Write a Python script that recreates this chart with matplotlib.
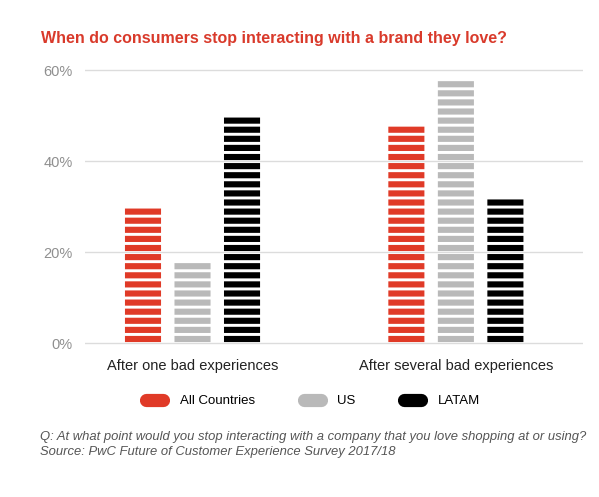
import numpy as np
import matplotlib.pyplot as plt
from matplotlib.lines import Line2D

plt.rcParams['font.family'] = ['Liberation Sans', 'DejaVu Sans']

# data
groups = ["After one bad experiences", "After several bad experiences"]
series = ["All Countries", "US", "LATAM"]
all_countries = [30, 48]
us = [18, 58]
latam = [50, 32]
colors = ["#e03a27", "#b9b9b9", "#000000"]
yticks = [0, 20, 40, 60]
ytick_labels = ["0%", "20%", "40%", "60%"]

stripe_step = 2.0   # one stripe every 2 %
stripe_fill = 1.35  # painted part of each stripe

fig = plt.figure(figsize=(5.99, 4.97), dpi=100)
ax = fig.add_axes([0.142, 0.3058, 0.831, 0.5547])

x = np.arange(len(groups))
width = 0.137
offsets = [-0.188, 0.0, 0.188]

for vals, off, col in zip([all_countries, us, latam], offsets, colors):
    for xi, v in zip(x, vals):
        bottoms = np.arange(0, v - 0.01, stripe_step) + 0.25
        ax.bar(np.full(len(bottoms), xi + off), stripe_fill, width=width,
               bottom=bottoms, color=col, linewidth=0, zorder=3, snap=False)

ax.set_xlim(-0.408, 1.482)
ax.set_ylim(-0.4, 60.2)
ax.set_yticks(yticks)
ax.set_yticklabels(ytick_labels, color="#8f8f8f", fontsize=10.5)
ax.set_xticks(x)
ax.set_xticklabels(groups, color="#222222", fontsize=10.5)
ax.tick_params(axis="y", length=0, pad=9)
ax.tick_params(axis="x", length=0, pad=10)
ax.grid(axis="y", color="#dcdcdc", linewidth=1, zorder=0)
ax.set_axisbelow(True)
for s in ax.spines.values():
    s.set_visible(False)

handles = [Line2D([0], [0], color=c, lw=9.5, solid_capstyle="round") for c in colors]
fig.legend(handles, series, loc="center left", bbox_to_anchor=(0.2247, 0.193),
           ncol=3, frameon=False, fontsize=9.5, handlelength=1.27,
           handletextpad=1.26, columnspacing=3.7)

fig.text(0.069, 0.922, "When do consumers stop interacting with a brand they love?",
         color="#d93a2b", fontsize=11.5, fontweight="bold", va="center")
fig.text(0.067, 0.12,
         "Q: At what point would you stop interacting with a company that you love shopping at or using?",
         color="#555555", fontsize=9.4, style="italic", va="center")
fig.text(0.067, 0.09, "Source: PwC Future of Customer Experience Survey 2017/18",
         color="#555555", fontsize=9.4, style="italic", va="center")

fig.savefig("out.png", dpi=100)
